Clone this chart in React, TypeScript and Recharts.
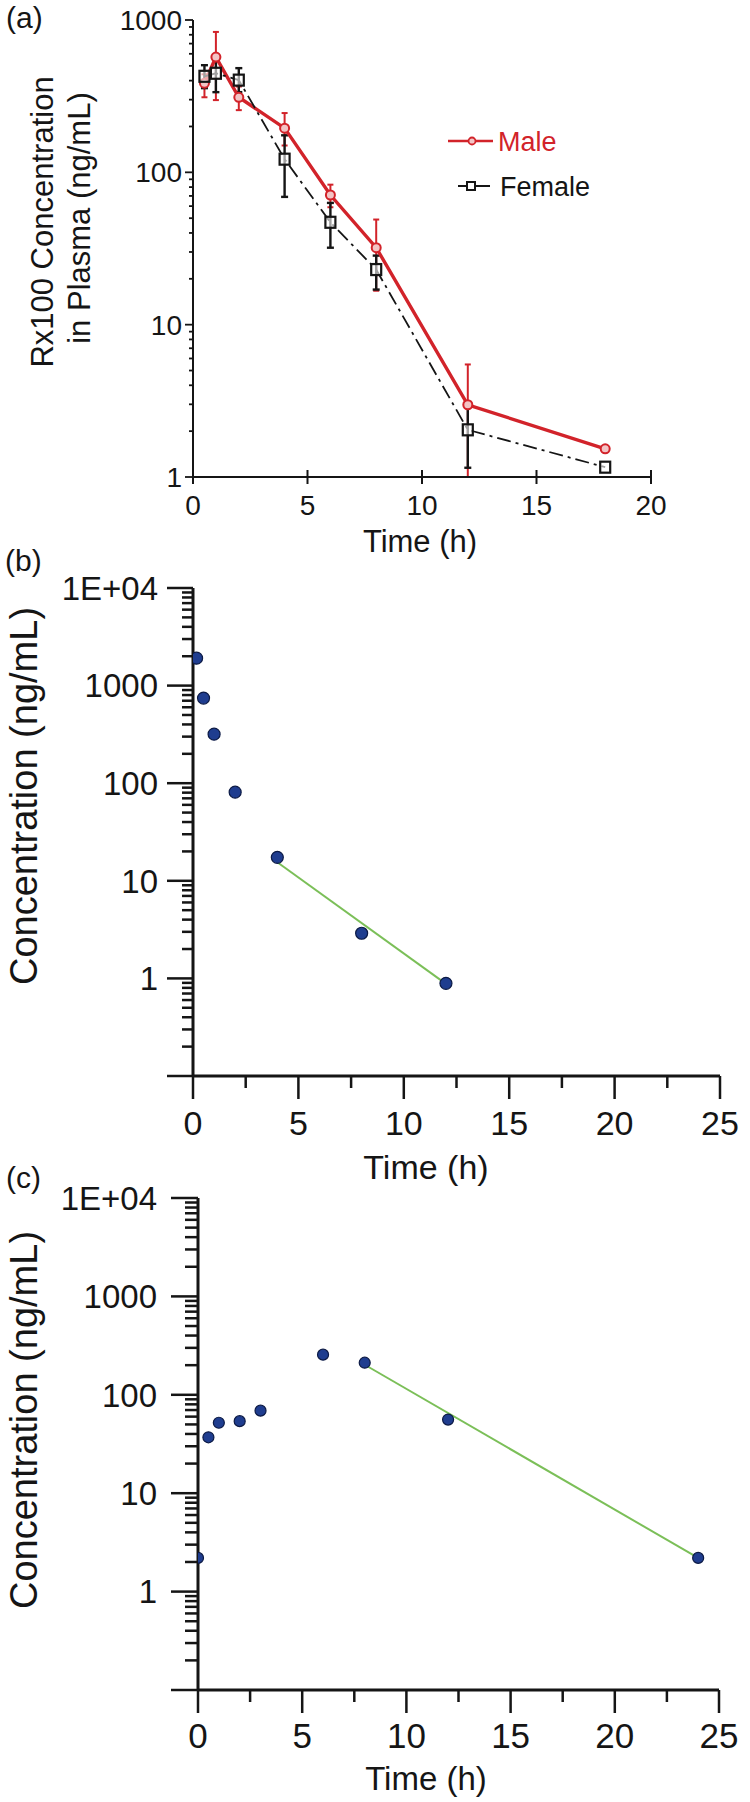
import React from 'react';
import { ComposedChart, Scatter, XAxis, YAxis, ErrorBar, Legend } from 'recharts';

// (a) Rx100 plasma concentration, male vs female (mean with SD bars)
const timeA = [0.5, 1, 2, 4, 6, 8, 12, 18];
const male = [385, 571, 311, 195, 71, 32, 2.98, 1.53];
const maleLow = [74, 273, 55, 45, 12, 15.3, 1.98, 0];
const maleHigh = [55, 264, 55, 50, 12, 17, 2.5, 0];
const female = [427, 447, 403, 122, 47, 23, 2.04, 1.16];
const femaleLow = [70, 111, 67, 53, 15, 6, 0.89, 0];
const femaleHigh = [78, 115, 80, 53, 16, 5.4, 1.0, 0];

// (b) single profile with terminal fit
const timeB = [0.17, 0.5, 1, 2, 4, 8, 12];
const concB = [1910, 745, 318, 81, 17.4, 2.9, 0.89];
const fitTimeB = [4, 12];
const fitB = [15.5, 0.88];

// (c) single profile with terminal fit
const timeC = [0, 0.5, 1, 2, 3, 6, 8, 12, 24];
const concC = [2.2, 37, 52, 54, 69, 256, 212, 56, 2.2];
const fitTimeC = [8, 24];
const fitC = [202, 2.2];

const xTicksA = [0, 5, 10, 15, 20];
const xTicksBC = [0, 2.5, 5, 7.5, 10, 12.5, 15, 17.5, 20, 22.5, 25];
const yLabelsA = ['1', '10', '100', '1000'];
const yLabelsBC = ['', '1', '10', '100', '1000', '1E+04'];

const INK = '#151515';
const RED = '#d2232a';
const BLUE = '#1f3d8f';
const BLUE_EDGE = '#0c1a45';
const GREEN = '#7bbf58';
const FONT = '"Liberation Sans", Arial, Helvetica, sans-serif';

const logTicks = (lo: number, hi: number) => {
  const out: number[] = [];
  for (let d = lo; d < hi * 0.99; d *= 10) {
    for (let k = 1; k < 10; k++) out.push(+(d * k).toPrecision(6));
  }
  out.push(hi);
  return out;
};

const rows = (t: number[], v: number[], lo?: number[], hi?: number[]) =>
  t.map((x, i) => ({
    t: x,
    v: v[i],
    err: lo && hi && (lo[i] || hi[i]) ? [lo[i], hi[i]] : null,
  }));

const maleRows = rows(timeA, male, maleLow, maleHigh);
const femaleRows = rows(timeA, female, femaleLow, femaleHigh);
const rowsB = rows(timeB, concB);
const rowsFitB = rows(fitTimeB, fitB);
const rowsC = rows(timeC, concC);
const rowsFitC = rows(fitTimeC, fitC);

type LogStyle = { major: number; minor: number; gap: number; size: number; width: number };

const makeLogTick = (labels: string[], minExp: number, s: LogStyle) => (props: any) => {
  const { x, y, payload } = props;
  const v = Number(payload.value);
  const e = Math.round(Math.log10(v));
  const major = Math.abs(v / Math.pow(10, e) - 1) < 1e-6;
  const label = major ? labels[e - minExp] : '';
  return (
    <g>
      <line x1={x} y1={y} x2={x - (major ? s.major : s.minor)} y2={y} stroke={INK} strokeWidth={s.width} />
      {label ? (
        <text x={x - s.major - s.gap} y={y} dy="0.36em" textAnchor="end" fontSize={s.size} fontFamily={FONT} fill={INK}>
          {label}
        </text>
      ) : null}
    </g>
  );
};

type LinStyle = { step: number; up: number; down: number; minor: number; labelDy: number; size: number; width: number };

const makeLinTick = (s: LinStyle) => (props: any) => {
  const { x, y, payload } = props;
  const v = Number(payload.value);
  const major = Math.abs(v / s.step - Math.round(v / s.step)) < 1e-6;
  return (
    <g>
      <line x1={x} x2={x} y1={y - (major ? s.up : 0)} y2={y + (major ? s.down : s.minor)} stroke={INK} strokeWidth={s.width} />
      {major ? (
        <text x={x} y={y + s.labelDy} dy="0.36em" textAnchor="middle" fontSize={s.size} fontFamily={FONT} fill={INK}>
          {v}
        </text>
      ) : null}
    </g>
  );
};

const title = (x: number, y: number, size: number, text: string, rotate = false) => (
  <text
    key={text}
    transform={rotate ? `translate(${x},${y}) rotate(-90)` : undefined}
    x={rotate ? 0 : x}
    y={rotate ? 0 : y}
    dy={rotate ? undefined : '0.36em'}
    textAnchor="middle"
    fontSize={size}
    fontFamily={FONT}
    fill={INK}
  >
    {text}
  </text>
);

const panelTag = (x: number, y: number, text: string) => (
  <text x={x} y={y} fontSize={30} fontFamily={FONT} fill={INK}>
    {text}
  </text>
);

const maleDot = (p: any) => <circle cx={p.cx} cy={p.cy} r={4.5} fill="#f3c4c5" stroke={RED} strokeWidth={2} />;
const femaleDot = (p: any) => (
  <rect x={p.cx - 5} y={p.cy - 5.5} width={10} height={11} fill="rgba(255,255,255,0.6)" stroke={INK} strokeWidth={2.2} />
);
const blueDot = (r: number) => (p: any) => (
  <circle cx={p.cx} cy={p.cy} r={r} fill={BLUE} stroke={BLUE_EDGE} strokeWidth={1.2} />
);
const noDot = () => <g />;

const legendA = (props: any) => {
  const items: any[] = props.payload || [];
  return (
    <svg width={200} height={90} style={{ overflow: 'visible' }}>
      {items.map((it, i) => {
        const isMale = it.value === 'Male';
        const y = isMale ? 23 : 68;
        return (
          <g key={it.value}>
            {isMale ? (
              <>
                <line x1={8} x2={53} y1={y} y2={y} stroke={RED} strokeWidth={2.5} />
                <circle cx={32} cy={y} r={3.5} fill="#f3c4c5" stroke={RED} strokeWidth={1.8} />
              </>
            ) : (
              <>
                <line x1={18} x2={50} y1={y} y2={y} stroke={INK} strokeWidth={2} />
                <rect x={27} y={y - 4} width={8} height={8} fill="#fff" stroke={INK} strokeWidth={2} />
              </>
            )}
            <text x={isMale ? 58 : 60} y={y} dy="0.36em" fontSize={27} fontFamily={FONT} fill={isMale ? RED : INK}>
              {it.value}
            </text>
          </g>
        );
      })}
    </svg>
  );
};

export default function App() {
  const tickBC: LinStyle = { step: 5, up: 0, down: 23, minor: 12, labelDy: 47, size: 34, width: 2.5 };
  return (
    <div style={{ position: 'absolute', left: 0, top: 0, width: 750, height: 1802, background: '#fff', fontFamily: FONT }}>
      {/* (a) */}
      <div style={{ position: 'absolute', left: 0, top: 0 }}>
        <ComposedChart width={750} height={560} margin={{ top: 20, right: 99, bottom: 53, left: 133 }}>
          <XAxis
            type="number"
            dataKey="t"
            domain={[0, 20]}
            ticks={xTicksA}
            interval={0}
            height={30}
            tickSize={0}
            tickMargin={0}
            allowDataOverflow
            axisLine={{ stroke: INK, strokeWidth: 2 }}
            tickLine={false}
            tick={makeLinTick({ step: 5, up: 7, down: 7, minor: 0, labelDy: 28, size: 28, width: 2 })}
            label={() => title(420, 541, 31, 'Time (h)')}
          />
          <YAxis
            type="number"
            dataKey="v"
            scale="log"
            domain={[1, 1000]}
            ticks={logTicks(1, 1000)}
            interval={0}
            width={60}
            tickSize={0}
            tickMargin={0}
            allowDataOverflow
            axisLine={{ stroke: INK, strokeWidth: 2 }}
            tickLine={false}
            tick={makeLogTick(yLabelsA, 0, { major: 8, minor: 4, gap: 3, size: 28, width: 1.8 })}
            label={() => (
              <g>
                {panelTag(6, 28, '(a)')}
                {title(53, 222, 31, 'Rx100 Concentration', true)}
                {title(90, 218, 31, 'in Plasma (ng/mL)', true)}
              </g>
            )}
          />
          <Legend
            content={legendA}
            layout="horizontal"
            verticalAlign="middle"
            align="center"
            wrapperStyle={{ left: 440, top: 118, width: 200, height: 90 }}
          />
          <Scatter
            name="Male"
            data={maleRows}
            fill={RED}
            line={{ stroke: RED, strokeWidth: 3.4 }}
            shape={maleDot}
            isAnimationActive={false}
          >
            <ErrorBar dataKey="err" direction="y" width={3} stroke={RED} strokeWidth={2} isAnimationActive={false} />
          </Scatter>
          <Scatter
            name="Female"
            data={femaleRows}
            fill={INK}
            line={{ stroke: INK, strokeWidth: 1.8, strokeDasharray: '14 5 3 5' }}
            shape={femaleDot}
            isAnimationActive={false}
          >
            <ErrorBar dataKey="err" direction="y" width={3.5} stroke={INK} strokeWidth={2.4} isAnimationActive={false} />
          </Scatter>
        </ComposedChart>
      </div>

      {/* (b) */}
      <div style={{ position: 'absolute', left: 0, top: 545 }}>
        <ComposedChart width={750} height={650} margin={{ top: 43, right: 30, bottom: 89, left: 133 }}>
          <XAxis
            type="number"
            dataKey="t"
            domain={[0, 25]}
            ticks={xTicksBC}
            interval={0}
            height={30}
            tickSize={0}
            tickMargin={0}
            allowDataOverflow
            axisLine={{ stroke: INK, strokeWidth: 3 }}
            tickLine={false}
            tick={makeLinTick(tickBC)}
            label={() => title(426, 622, 34, 'Time (h)')}
          />
          <YAxis
            type="number"
            dataKey="v"
            scale="log"
            domain={[0.1, 10000]}
            ticks={logTicks(0.1, 10000)}
            interval={0}
            width={60}
            tickSize={0}
            tickMargin={0}
            allowDataOverflow
            axisLine={{ stroke: INK, strokeWidth: 3 }}
            tickLine={false}
            tick={makeLogTick(yLabelsBC, -1, { major: 26, minor: 11, gap: 9, size: 33, width: 2.5 })}
            label={() => (
              <g>
                {panelTag(5, 26, '(b)')}
                {title(37, 251, 38, 'Concentration (ng/mL)', true)}
              </g>
            )}
          />
          <Scatter data={rowsFitB} line={{ stroke: GREEN, strokeWidth: 2 }} shape={noDot} isAnimationActive={false} />
          <Scatter data={rowsB} fill={BLUE} shape={blueDot(6)} isAnimationActive={false} />
        </ComposedChart>
      </div>

      {/* (c) */}
      <div style={{ position: 'absolute', left: 0, top: 1150 }}>
        <ComposedChart width={750} height={652} margin={{ top: 48, right: 31, bottom: 82, left: 138 }}>
          <XAxis
            type="number"
            dataKey="t"
            domain={[0, 25]}
            ticks={xTicksBC}
            interval={0}
            height={30}
            tickSize={0}
            tickMargin={0}
            allowDataOverflow
            axisLine={{ stroke: INK, strokeWidth: 3 }}
            tickLine={false}
            tick={makeLinTick({ ...tickBC, labelDy: 45, size: 35 })}
            label={() => title(426, 628, 33, 'Time (h)')}
          />
          <YAxis
            type="number"
            dataKey="v"
            scale="log"
            domain={[0.1, 10000]}
            ticks={logTicks(0.1, 10000)}
            interval={0}
            width={60}
            tickSize={0}
            tickMargin={0}
            allowDataOverflow
            axisLine={{ stroke: INK, strokeWidth: 3 }}
            tickLine={false}
            tick={makeLogTick(yLabelsBC, -1, { major: 27, minor: 13, gap: 14, size: 33, width: 2.5 })}
            label={() => (
              <g>
                {panelTag(6, 38, '(c)')}
                {title(37, 270, 38, 'Concentration (ng/mL)', true)}
              </g>
            )}
          />
          <Scatter data={rowsFitC} line={{ stroke: GREEN, strokeWidth: 2 }} shape={noDot} isAnimationActive={false} />
          <Scatter data={rowsC} fill={BLUE} shape={blueDot(5.5)} isAnimationActive={false} />
        </ComposedChart>
      </div>
    </div>
  );
}
